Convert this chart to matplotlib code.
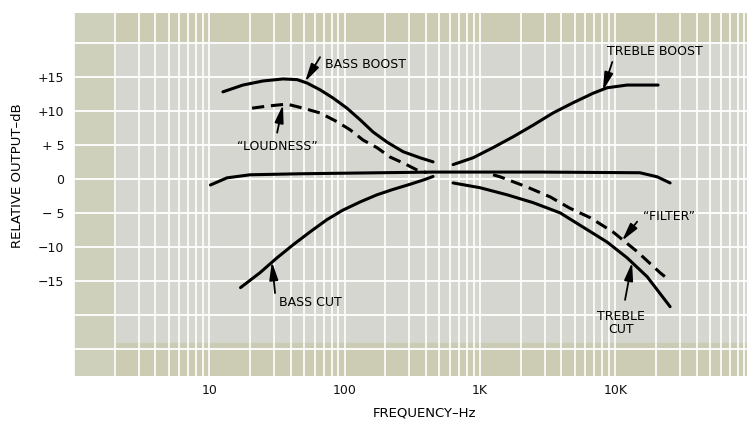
import matplotlib
matplotlib.use("Agg")
import matplotlib.pyplot as plt
from matplotlib.ticker import LogLocator, NullFormatter

# curves (frequency in Hz, relative output in dB)
bass_boost_f = [12.6, 17.7, 24.9, 35.1, 44.5, 52.7, 65.8, 82, 104, 130, 162, 206, 270, 361, 450]
bass_boost_db = [12.8, 13.8, 14.4, 14.7, 14.6, 14.1, 13.1, 11.9, 10.4, 8.7, 6.9, 5.4, 4.0, 3.1, 2.5]

loudness_f = [20.7, 26.7, 37.5, 49.3, 65.8, 88, 110, 137, 173, 217, 270, 343, 406]
loudness_db = [10.4, 10.7, 11.0, 10.4, 9.7, 8.4, 7.2, 5.7, 4.6, 3.2, 2.35, 1.3, 0.9]

flat_f = [10.2, 13.5, 20, 47, 450, 2780, 15200, 20400, 25400]
flat_db = [-0.9, 0.15, 0.6, 0.75, 1.0, 1.0, 0.9, 0.3, -0.6]

treble_boost_f = [633, 889, 1250, 1760, 2470, 3470, 4880, 6860, 8700, 12200, 17200, 20700]
treble_boost_db = [2.1, 3.1, 4.6, 6.2, 7.9, 9.7, 11.2, 12.6, 13.4, 13.8, 13.8, 13.8]

bass_cut_f = [17, 23.7, 31.7, 41.6, 55.5, 74, 97, 130, 173, 228, 304, 390, 450]
bass_cut_db = [-16.0, -13.8, -11.6, -9.7, -7.8, -6.0, -4.6, -3.4, -2.35, -1.55, -0.8, -0.1, 0.35]

treble_cut_f = [633, 1000, 1590, 2470, 3910, 5780, 8700, 12200, 17200, 25400]
treble_cut_db = [-0.6, -1.3, -2.35, -3.5, -5.0, -7.1, -9.3, -11.6, -14.4, -18.8]

filter_f = [1250, 1410, 2230, 3300, 4600, 6500, 9600, 14500, 21400, 24000]
filter_db = [0.6, 0.3, -1.2, -2.65, -4.3, -5.7, -7.8, -10.7, -13.8, -14.6]

x_ticks = [10, 100, 1000, 10000]
x_labels = ["10", "100", "1K", "10K"]
y_ticks = [15, 10, 5, 0, -5, -10, -15]
y_labels = ["+15", "+10", "+ 5", "0", "\u2212 5", "\u221210", "\u221215"]

fig = plt.figure(figsize=(7.47, 4.22), dpi=100)
ax = fig.add_axes([74 / 747, 1 - 376 / 422, 673 / 747, 363 / 422])
ax.set_facecolor("#d6d6d0")

ax.set_xscale("log")
ax.set_xlim(1, 94000)
ax.set_ylim(-29.0, 24.4)

# greenish bands of the printed chart paper
ax.axhspan(20.1, 24.4, color="#cbccb3", zorder=0)
ax.axhspan(-29.0, -24.1, color="#cbccb3", zorder=0)
ax.axvspan(1, 2, color="#cfd0bb", zorder=0)

ax.set_xticks(x_ticks)
ax.set_xticklabels(x_labels)
ax.xaxis.set_minor_locator(LogLocator(base=10, subs=range(2, 10), numticks=20))
ax.xaxis.set_minor_formatter(NullFormatter())
ax.set_yticks([20] + y_ticks + [-20, -25])
ax.set_yticklabels([""] + y_labels + ["", ""])

ax.grid(True, which="both", axis="x", color="white", lw=1.2)
ax.grid(True, which="major", axis="y", color="white", lw=1.3)
ax.axvline(1, color="white", lw=1.2)
ax.set_axisbelow(True)

for s in ax.spines.values():
    s.set_visible(False)
ax.tick_params(which="both", length=0)
ax.tick_params(axis="y", pad=7, labelsize=9, labelcolor="#111111")
ax.tick_params(axis="x", pad=6, labelsize=9, labelcolor="#111111")

lw = 2.2
ax.plot(bass_boost_f, bass_boost_db, color="black", lw=lw, solid_capstyle="round")
ax.plot(loudness_f, loudness_db, color="black", lw=lw, dashes=(4, 2.2))
ax.plot(flat_f, flat_db, color="black", lw=lw, solid_capstyle="round")
ax.plot(treble_boost_f, treble_boost_db, color="black", lw=lw, solid_capstyle="round")
ax.plot(bass_cut_f, bass_cut_db, color="black", lw=lw, solid_capstyle="round")
ax.plot(treble_cut_f, treble_cut_db, color="black", lw=lw, solid_capstyle="round")
ax.plot(filter_f, filter_db, color="black", lw=lw, dashes=(4, 2.2))

arrow = dict(arrowstyle="-|>,head_length=0.9,head_width=0.22", color="black",
             lw=1.3, shrinkA=0, shrinkB=0, mutation_scale=12)
fs = 9

ax.text(71.6, 16.8, "BASS BOOST", fontsize=fs, ha="left", va="center")
ax.annotate("", xy=(51, 14.3), xytext=(65.8, 17.9), arrowprops=arrow)

ax.text(31.7, 4.7, "\u201cLOUDNESS\u201d", fontsize=fs, ha="center", va="center")
ax.annotate("", xy=(35, 10.9), xytext=(31.7, 6.8), arrowprops=arrow)

ax.text(8700, 18.7, "TREBLE BOOST", fontsize=fs, ha="left", va="center")
ax.annotate("", xy=(8100, 13.0), xytext=(9500, 17.2), arrowprops=arrow)

ax.text(16000, -5.6, "\u201cFILTER\u201d", fontsize=fs, ha="left", va="center")
ax.annotate("", xy=(11200, -9.1), xytext=(14500, -6.3), arrowprops=arrow)

ax.text(33, -18.2, "BASS CUT", fontsize=fs, ha="left", va="center")
ax.annotate("", xy=(29, -12.2), xytext=(30.6, -16.8), arrowprops=arrow)

ax.text(11000, -21.2, "TREBLE\nCUT", fontsize=fs, ha="center", va="center",
        linespacing=1.0)
ax.annotate("", xy=(13300, -12.3), xytext=(11800, -17.8), arrowprops=arrow)

fig.text(18 / 747, 1 - 176 / 422, "RELATIVE OUTPUT\u2013dB", rotation=90,
         fontsize=9.5, ha="center", va="center")
fig.text(425 / 747, 1 - 413 / 422, "FREQUENCY\u2013Hz", fontsize=9.5,
         ha="center", va="center")

fig.savefig("out.png", dpi=100)
